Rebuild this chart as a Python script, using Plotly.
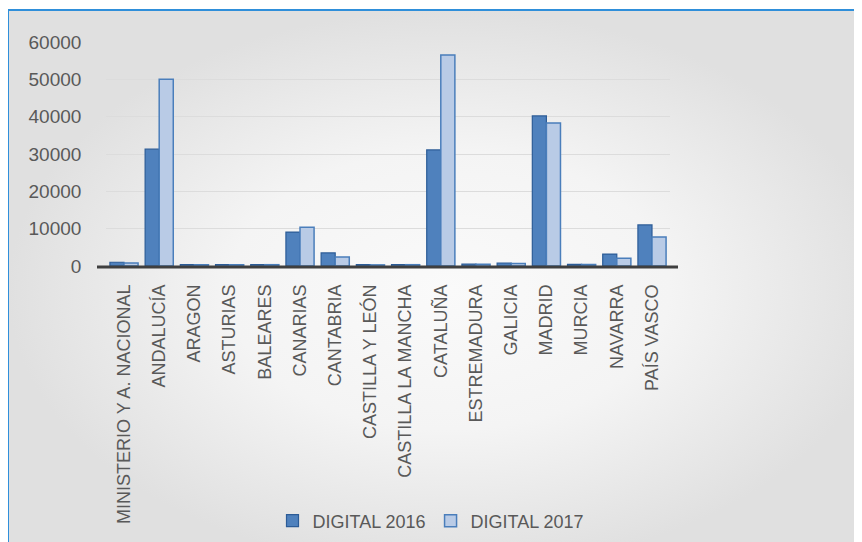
import plotly.graph_objects as go

categories = ["MINISTERIO Y A. NACIONAL", "ANDALUCÍA", "ARAGON", "ASTURIAS", "BALEARES",
              "CANARIAS", "CANTABRIA", "CASTILLA Y LEÓN", "CASTILLA LA MANCHA", "CATALUÑA",
              "ESTREMADURA", "GALICIA", "MADRID", "MURCIA", "NAVARRA", "PAÍS VASCO"]
digital_2016 = [1000, 31300, 400, 400, 400, 9100, 3500, 350, 400, 31100, 500, 800, 40200, 450, 3200, 11000]
digital_2017 = [800, 50000, 350, 350, 350, 10400, 2400, 300, 350, 56500, 450, 700, 38300, 400, 2100, 7800]
y_ticks = [0, 10000, 20000, 30000, 40000, 50000, 60000]
y_tick_labels = ["0", "10000", "20000", "30000", "40000", "50000", "60000"]

W, H = 862, 542
OFF = 8  # page body margin
FONT = "Liberation Sans, Arial, sans-serif"
TXT = "#595959"


def px(v):
    return (v - OFF) / W


def py(v):
    return 1 - (v - OFF) / H


fig = go.Figure()

# background panel (full figure coordinates)
fig.add_trace(go.Scatter(
    x=[0, W + 20, W + 20, 0, 0], y=[10 - OFF, 10 - OFF, H + 20, H + 20, 10 - OFF],
    mode="lines", fill="toself",
    line=dict(width=0), hoverinfo="skip", showlegend=False,
    fillgradient=dict(type="radial",
                      colorscale=[[0, "#FAFAFA"], [0.5, "#F4F4F4"], [1, "#E0E0E0"]]),
    xaxis="x", yaxis="y"))

fig.add_trace(go.Bar(
    x=categories, y=digital_2016, name="DIGITAL 2016",
    marker=dict(color="#4F81BD", line=dict(color="#2C5C97", width=1.2)),
    xaxis="x2", yaxis="y2"))
fig.add_trace(go.Bar(
    x=categories, y=digital_2017, name="DIGITAL 2017",
    marker=dict(color="#B9CBE6", line=dict(color="#4A7EBB", width=1.5)),
    xaxis="x2", yaxis="y2"))

x_dom = [px(106.4), px(669.6)]
y_dom = [py(266), py(42)]

fig.update_layout(
    width=W, height=H,
    margin=dict(l=0, r=0, t=0, b=0),
    paper_bgcolor="white", plot_bgcolor="rgba(0,0,0,0)",
    barmode="group", bargap=0.2, bargroupgap=0,
    font=dict(family=FONT, color=TXT, size=18),
    xaxis=dict(domain=[0, 1], range=[0, W], visible=False, fixedrange=True),
    yaxis=dict(domain=[0, 1], range=[H, 0], visible=False, fixedrange=True),
    xaxis2=dict(domain=x_dom, anchor="y2", tickangle=-90, showgrid=False,
                showline=False, ticks="", ticklabelstandoff=14,
                tickfont=dict(family=FONT, size=18, color=TXT), automargin=False),
    yaxis2=dict(domain=y_dom, anchor="x2", range=[0, 60000], tickvals=y_ticks,
                ticktext=y_tick_labels,
                showgrid=True, gridcolor="#DCDCDC", gridwidth=1, zeroline=False,
                showline=False, ticks="", ticklabelstandoff=24,
                tickfont=dict(family=FONT, size=19, color=TXT), automargin=False),
    legend=dict(orientation="h", x=px(431), xanchor="center", y=py(521), yanchor="middle",
                font=dict(family=FONT, size=18, color=TXT), bgcolor="rgba(0,0,0,0)",
                traceorder="normal"),
    shapes=[
        dict(type="rect", xref="paper", yref="paper", x0=px(8), y0=py(10), x1=1.02, y1=-0.02,
             line=dict(color="#2F8FDA", width=2), fillcolor="rgba(0,0,0,0)", layer="above"),
        dict(type="line", xref="paper", yref="paper", x0=px(97), x1=px(678),
             y0=py(267), y1=py(267), line=dict(color="#3F3F3F", width=3), layer="above"),
    ],
)

fig.write_html("out.html")
